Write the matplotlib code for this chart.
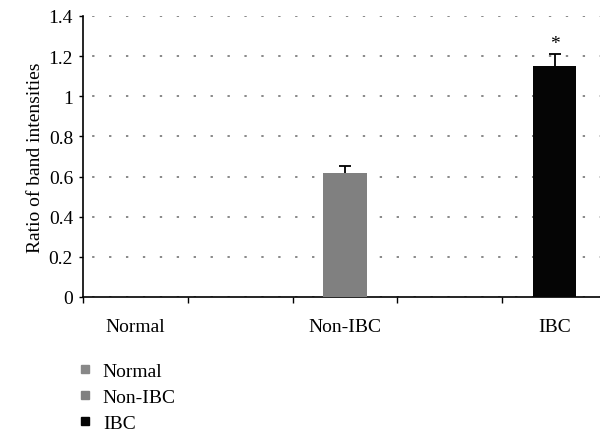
import matplotlib.pyplot as plt
from matplotlib.lines import Line2D

################################################################################

GROUPS = ["Normal", "Non-IBC", "IBC"]
VALUES = [0.0, 0.62, 1.15]
ERRORS = [0.0, 0.035, 0.06]
COLORS = ["#888888", "#808080", "#050505"]
Y_TICKS = [0, 0.2, 0.4, 0.6, 0.8, 1.0, 1.2, 1.4]
Y_LABELS = ["0", "0.2", "0.4", "0.6", "0.8", "1", "1.2", "1.4"]
STAR_GROUP = "IBC"
FS = 14

################################################################################

plt.rcParams["font.family"] = ["Liberation Serif", "DejaVu Serif"]

fig = plt.figure(figsize=(6.0, 4.35), dpi=100)
ax = fig.add_axes([0.138, 0.315, 0.874, 0.646])

# each group sits in every other slot of the category axis
positions = [2 * i for i in range(len(GROUPS))]
ax.bar(positions, VALUES, width=0.41, color=COLORS, zorder=3)

# upper error bars only
for x, v, e in zip(positions, VALUES, ERRORS):
    if e <= 0:
        continue
    ax.vlines(x, v, v + e, color="black", linewidth=1.3, zorder=4)
    ax.plot([x], [v + e], marker="_", markersize=9, markeredgewidth=1.3,
            color="black", zorder=4)

i = GROUPS.index(STAR_GROUP)
ax.text(positions[i], VALUES[i] + ERRORS[i] + 0.012, "*", ha="center",
        va="bottom", fontsize=FS)

ax.set_xlim(-0.5, 4.5)
ax.set_ylim(0, 1.4)
ax.set_yticks(Y_TICKS)
ax.set_yticklabels(Y_LABELS, fontsize=FS)
ax.set_xticks(positions)
ax.set_xticklabels(GROUPS, fontsize=FS)
ax.tick_params(axis="x", which="major", length=0, pad=15)
ax.set_xticks([k - 0.5 for k in range(6)], minor=True)
ax.tick_params(axis="x", which="minor", length=4, direction="out", width=1)
ax.tick_params(axis="y", length=3, direction="out", width=1, pad=4)
ax.set_ylabel("Ratio of band intensities", fontsize=FS, labelpad=3)

ax.yaxis.grid(True, color="#888888", linestyle=(4, (1.2, 7.5)), linewidth=1.4,
              zorder=0)
ax.set_axisbelow(True)
for side in ["top", "right"]:
    ax.spines[side].set_visible(False)
for side in ["left", "bottom"]:
    ax.spines[side].set_linewidth(1.2)

handles = [Line2D([], [], marker="s", linestyle="none", markersize=6,
                  color=c) for c in COLORS]
fig.legend(handles, GROUPS, loc="upper left", bbox_to_anchor=(0.113, 0.188),
           frameon=False, fontsize=FS, handletextpad=0.5, labelspacing=0.45,
           handlelength=0.8, borderpad=0)

fig.savefig("out.png", dpi=100)
